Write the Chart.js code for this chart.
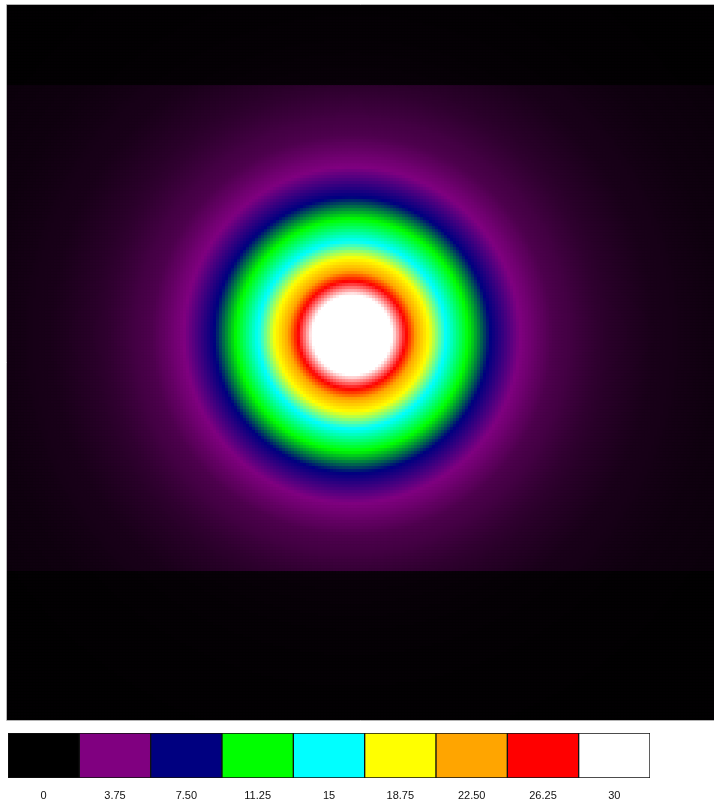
<!DOCTYPE html>
<html>
<head>
<meta charset="utf-8">
<script src="https://cdn.jsdelivr.net/npm/chart.js@4/dist/chart.umd.min.js"></script>
<style>
  html, body { margin: 0; padding: 0; background: #ffffff; overflow: hidden; width: 714px; height: 807px; }
  #field { position: absolute; left: 0; top: 0; }
  #scale { position: absolute; left: 0; top: 728px; }
</style>
</head>
<body>
<canvas id="field" width="714" height="722"></canvas>
<canvas id="scale" width="714" height="79"></canvas>
<script>
// Colour key: intensity levels, their labels and colours
const levels      = [0, 3.75, 7.5, 11.25, 15, 18.75, 22.5, 26.25, 30];
const levelLabels = ['0', '3.75', '7.50', '11.25', '15', '18.75', '22.50', '26.25', '30'];
const levelColors = ['#000000', '#800080', '#000080', '#00ff00', '#00ffff', '#ffff00', '#ffa500', '#ff0000', '#ffffff'];
const keyHeight   = [1, 1, 1, 1, 1, 1, 1, 1, 1];

// Radial intensity profile around the peak (distance -> intensity)
const profileRadius = [0, 4.0, 5.4, 6.4, 7.7, 9.4, 11.6, 13.8, 16.8, 20, 25, 30, 36.5, 45, 55];
const profileValue  = [34, 30, 26.25, 22.5, 18.75, 15, 11.25, 7.5, 3.75, 2.3, 1.3, 0.75, 0.45, 0.3, 0.2];

// Peak position and field extent
const peak = [0, 0];
const xRange = [-34.6, 36.1];
const yRange = [-38.6, 32.9];
const cellStep = 0.3;

// Rows outside the central band are recorded at reduced strength
const bandLimits = [-23.6, 24.9];
const bandGain   = [0.2, 1, 0.2];

function hexToRgb(h) {
  return [parseInt(h.slice(1, 3), 16), parseInt(h.slice(3, 5), 16), parseInt(h.slice(5, 7), 16)];
}
const levelRgb = levelColors.map(hexToRgb);

function colourFor(v) {
  if (v <= levels[0]) return levelRgb[0];
  const last = levels.length - 1;
  if (v >= levels[last]) return levelRgb[last];
  let i = 0;
  while (v > levels[i + 1]) i++;
  const t = (v - levels[i]) / (levels[i + 1] - levels[i]);
  const a = levelRgb[i], b = levelRgb[i + 1];
  return [0, 1, 2].map(k => Math.round(a[k] + (b[k] - a[k]) * t));
}

function profileAt(r) {
  const n = profileRadius.length;
  if (r >= profileRadius[n - 1]) return profileValue[n - 1];
  let i = 0;
  while (r > profileRadius[i + 1]) i++;
  const t = (r - profileRadius[i]) / (profileRadius[i + 1] - profileRadius[i]);
  return profileValue[i] + (profileValue[i + 1] - profileValue[i]) * t;
}

function gainAt(y) {
  if (y < bandLimits[0]) return bandGain[0];
  if (y > bandLimits[1]) return bandGain[2];
  return bandGain[1];
}

// Build the grid of cells
const cells = [];
const cellColors = [];
const nx = Math.ceil((xRange[1] - xRange[0]) / cellStep);
const ny = Math.ceil((yRange[1] - yRange[0]) / cellStep);
for (let j = 0; j < ny; j++) {
  const y = yRange[0] + (j + 0.5) * cellStep;
  const g = gainAt(y);
  for (let i = 0; i < nx; i++) {
    const x = xRange[0] + (i + 0.5) * cellStep;
    const r = Math.hypot(x - peak[0], y - peak[1]);
    const v = profileAt(r) * g;
    const c = colourFor(v);
    cells.push({ x: x, y: y });
    cellColors.push('rgb(' + c[0] + ',' + c[1] + ',' + c[2] + ')');
  }
}

// Dark fill under the cells and a thin grey frame on the left, top and bottom
const framePlugin = {
  id: 'frame',
  beforeDatasetsDraw(chart) {
    const { ctx, chartArea: a } = chart;
    ctx.save();
    ctx.fillStyle = '#050005';
    ctx.fillRect(a.left, a.top, a.right - a.left, a.bottom - a.top);
    ctx.restore();
  },
  afterDraw(chart) {
    const { ctx, chartArea: a } = chart;
    ctx.save();
    ctx.strokeStyle = '#b4b4b4';
    ctx.lineWidth = 1;
    ctx.beginPath();
    ctx.moveTo(a.right + 1, a.top - 0.5);
    ctx.lineTo(a.left - 0.5, a.top - 0.5);
    ctx.lineTo(a.left - 0.5, a.bottom + 0.5);
    ctx.lineTo(a.right + 1, a.bottom + 0.5);
    ctx.stroke();
    ctx.restore();
  }
};

new Chart(document.getElementById('field'), {
  type: 'scatter',
  data: {
    datasets: [{
      data: cells,
      pointStyle: 'rect',
      pointRadius: 3.6,
      pointHoverRadius: 3.6,
      pointBorderWidth: 0,
      pointBackgroundColor: cellColors,
      clip: 0
    }]
  },
  options: {
    responsive: false,
    animation: false,
    events: [],
    parsing: false,
    normalized: true,
    layout: { autoPadding: false, padding: { left: 7, top: 5, right: 0, bottom: 2 } },
    scales: {
      x: { type: 'linear', display: false, min: xRange[0], max: xRange[1] },
      y: { type: 'linear', display: false, min: yRange[0], max: yRange[1] }
    },
    plugins: { legend: { display: false }, tooltip: { enabled: false } }
  },
  plugins: [framePlugin]
});

// Colour key below the field
new Chart(document.getElementById('scale'), {
  type: 'bar',
  data: {
    labels: levelLabels,
    datasets: [{
      data: keyHeight,
      backgroundColor: levelColors,
      borderColor: '#111111',
      borderWidth: 1,
      borderSkipped: false,
      barPercentage: 1,
      categoryPercentage: 1
    }]
  },
  options: {
    responsive: false,
    animation: false,
    events: [],
    layout: { padding: { left: 8, right: 64, top: 5, bottom: 0 } },
    scales: {
      x: {
        grid: { display: false, drawTicks: false },
        border: { display: false },
        afterFit(scale) { scale.height = 29; },
        ticks: {
          color: '#111111',
          padding: 11,
          maxRotation: 0,
          autoSkip: false,
          font: { family: "'Liberation Sans', Arial, sans-serif", size: 11 }
        }
      },
      y: { display: false, min: 0, max: 1 }
    },
    plugins: { legend: { display: false }, tooltip: { enabled: false } }
  }
});
</script>
</body>
</html>
